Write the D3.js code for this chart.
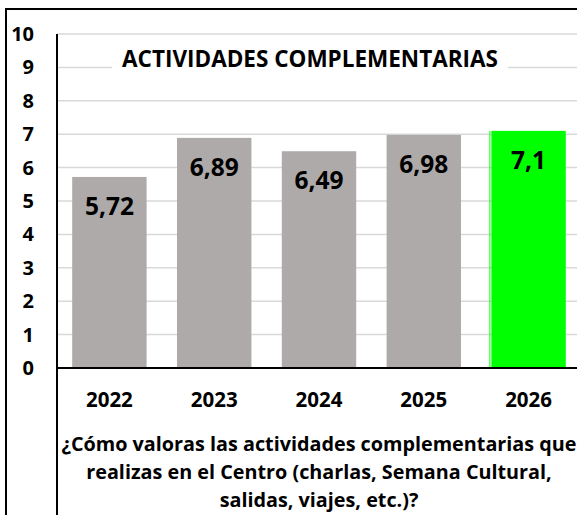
<!DOCTYPE html>
<html>
<head>
<meta charset="utf-8">
<script src="https://cdn.jsdelivr.net/npm/d3@7"></script>
<style>
  body { margin: 0; background: #fff; }
  text { font-family: "Open Sans", Lato, sans-serif; font-weight: bold; fill: #000; }
</style>
</head>
<body>
<div id="chart"></div>
<script>
var years = ["2022", "2023", "2024", "2025", "2026"];
var scores = [5.72, 6.89, 6.49, 6.98, 7.1];
var scoreLabels = ["5,72", "6,89", "6,49", "6,98", "7,1"];
var yTicks = [0, 1, 2, 3, 4, 5, 6, 7, 8, 9, 10];
var chartTitle = "ACTIVIDADES COMPLEMENTARIAS";
var questionLines = [
    "¿Cómo valoras las actividades complementarias que",
    "realizas en el Centro (charlas, Semana Cultural,",
    "salidas, viajes, etc.)?"
];

var svgWidth = 577;
var svgHeight = 515;

var plotLeft = 57;
var plotRight = 581;
var plotTop = 34;
var plotBottom = 368;

var svg = d3.select("#chart")
    .append("svg")
    .attr("width", svgWidth)
    .attr("height", svgHeight);

var x = d3.scaleBand()
    .domain(years)
    .range([plotLeft, plotRight])
    .paddingInner(0.29)
    .paddingOuter(0.145);

var y = d3.scaleLinear()
    .domain([0, 10])
    .range([plotBottom, plotTop]);

// outer frame
svg.append("rect")
    .attr("x", 6)
    .attr("y", 9)
    .attr("width", 700)
    .attr("height", 700)
    .attr("fill", "none")
    .attr("stroke", "#000")
    .attr("stroke-width", 2);

// gridlines
svg.append("g")
    .selectAll("line")
    .data(yTicks.filter(d => d > 0))
    .enter()
    .append("line")
    .attr("x1", plotLeft)
    .attr("x2", svgWidth)
    .attr("y1", d => y(d))
    .attr("y2", d => y(d))
    .attr("stroke", "#d9d9d9")
    .attr("stroke-width", 1.5);

// bars
svg.append("g")
    .selectAll("rect")
    .data(years)
    .enter()
    .append("rect")
    .attr("x", d => x(d))
    .attr("y", (d, i) => y(scores[i]))
    .attr("width", x.bandwidth())
    .attr("height", (d, i) => y(0) - y(scores[i]))
    .attr("fill", (d, i) => i === years.length - 1 ? "#00ff00" : "#aeaaaa");

// thin edge left of the highlighted bar
var last = years[years.length - 1];
svg.append("rect")
    .attr("x", x(last) - 2)
    .attr("y", y(scores[scores.length - 1]))
    .attr("width", 1)
    .attr("height", y(0) - y(scores[scores.length - 1]))
    .attr("fill", "#00ff00");

// value labels
svg.append("g")
    .selectAll("text")
    .data(years)
    .enter()
    .append("text")
    .attr("x", d => x(d) + x.bandwidth() / 2)
    .attr("y", (d, i) => y(scores[i]) + 38)
    .attr("text-anchor", "middle")
    .style("font-size", "24.5px")
    .text((d, i) => scoreLabels[i]);

// title with white box over the gridline
var titleG = svg.append("g");
var titleBox = titleG.append("rect").attr("fill", "#fff");
var titleText = titleG.append("text")
    .attr("x", 310)
    .attr("y", 67)
    .attr("text-anchor", "middle")
    .style("font-size", "22.5px")
    .text(chartTitle);
var tb = titleText.node().getBBox();
titleBox
    .attr("x", tb.x - 10)
    .attr("y", tb.y - 4)
    .attr("width", tb.width + 20)
    .attr("height", tb.height + 8);

// y axis labels
svg.append("g")
    .selectAll("text")
    .data(yTicks)
    .enter()
    .append("text")
    .attr("x", 34)
    .attr("y", d => y(d))
    .attr("dy", "0.35em")
    .attr("text-anchor", "end")
    .style("font-size", "20px")
    .text(d => d);

// axis lines
svg.append("line")
    .attr("x1", plotLeft)
    .attr("x2", plotLeft)
    .attr("y1", plotTop)
    .attr("y2", svgHeight)
    .attr("stroke", "#000")
    .attr("stroke-width", 2);

svg.append("line")
    .attr("x1", plotLeft)
    .attr("x2", svgWidth)
    .attr("y1", plotBottom)
    .attr("y2", plotBottom)
    .attr("stroke", "#000")
    .attr("stroke-width", 2);

// category labels
svg.append("g")
    .selectAll("text")
    .data(years)
    .enter()
    .append("text")
    .attr("x", d => x(d) + x.bandwidth() / 2)
    .attr("y", 407)
    .attr("text-anchor", "middle")
    .style("font-size", "20.5px")
    .text(d => d);

// question under the axis
svg.append("g")
    .selectAll("text")
    .data(questionLines)
    .enter()
    .append("text")
    .attr("x", (plotLeft + plotRight) / 2)
    .attr("y", (d, i) => 451 + i * 28)
    .attr("text-anchor", "middle")
    .style("font-size", "19.8px")
    .text(d => d);
</script>
</body>
</html>
